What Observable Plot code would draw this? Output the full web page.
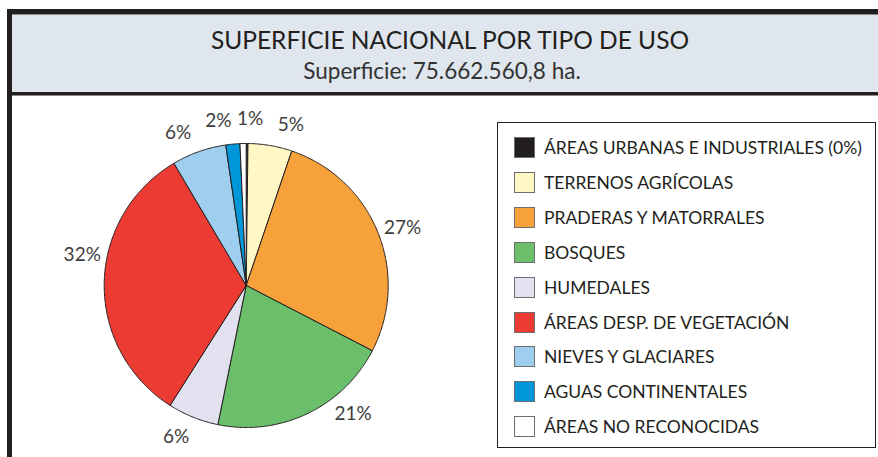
<!DOCTYPE html>
<html><head><meta charset="utf-8">
<script src="https://cdn.jsdelivr.net/npm/d3@7"></script>
<script src="https://cdn.jsdelivr.net/npm/@observablehq/plot@0.6"></script>
<style>
html,body{margin:0;padding:0;background:#fff;width:878px;height:457px;overflow:hidden;font-family:Lato,"Open Sans",sans-serif;color:#231f20}
.abs{position:absolute}
#pie svg{background:transparent!important;max-width:none}
.leg-row{position:absolute;left:0;height:21px;display:flex;align-items:center}
.sw{width:21px;height:21px;box-sizing:border-box;border:1px solid #6d6e71;margin-right:9px}
.lt{font-size:17.5px;line-height:21px;white-space:nowrap;color:#231f20}
</style></head>
<body>
<div class="abs" style="left:12px;top:14px;width:866px;height:79px;background:#dfe6ee"></div>
<div class="abs" style="left:7px;top:9px;width:871px;height:5px;background:#231f20"></div>
<div class="abs" style="left:12px;top:14px;width:866px;height:1px;background:#8a8a8a"></div>
<div class="abs" style="left:7px;top:92px;width:871px;height:3px;background:#231f20"></div>
<div class="abs" style="left:12px;top:95px;width:866px;height:1px;background:#8a8a8a"></div>
<div id="title" class="abs" style="left:0;width:900px;top:26px;text-align:center;font-size:24.5px;line-height:28px">SUPERFICIE NACIONAL POR TIPO DE USO</div>
<div id="sub" class="abs" style="left:0;width:884px;top:58px;text-align:center;font-size:22.5px;line-height:26px;color:#333">Superficie: 75.662.560,8 ha.</div>
<div id="pie" class="abs" style="left:0;top:97px"></div>
<div class="abs" style="left:7px;top:9px;width:5px;height:448px;background:#231f20"></div>
<div id="legend" class="abs" style="left:497px;top:122px;width:379px;height:326px;box-sizing:border-box;border:1px solid #231f20"></div>
<script>
const categories = ["ÁREAS URBANAS E INDUSTRIALES","TERRENOS AGRÍCOLAS","PRADERAS Y MATORRALES","BOSQUES","HUMEDALES","ÁREAS DESP. DE VEGETACIÓN","NIEVES Y GLACIARES","AGUAS CONTINENTALES","ÁREAS NO RECONOCIDAS"];
const legendLabels = ["ÁREAS URBANAS E INDUSTRIALES (0%)","TERRENOS AGRÍCOLAS","PRADERAS Y MATORRALES","BOSQUES","HUMEDALES","ÁREAS DESP. DE VEGETACIÓN","NIEVES Y GLACIARES","AGUAS CONTINENTALES","ÁREAS NO RECONOCIDAS"];
const values = [0.2, 5.0, 27.4, 20.6, 5.8, 32.5, 6.2, 1.6, 0.7];
const pctLabels = ["", "5%", "27%", "21%", "6%", "32%", "6%", "2%", "1%"];
const colors = ["#231f20","#fff8c4","#f7a13a","#6bbf6a","#e1e1ef","#eb3b32","#9fcfee","#0097d9","#ffffff"];

// layout settings (not data)
const labelNudgeDeg = [0, 5.8, 1.6, -14.3, 2.9, 9.8, -4.6, -4.2, 2.6];
const W = 492, H = 360, R = 142, cx = 245.7, cy = 188;

const total = d3.sum(values);
const pts = [];
const labs = [];
let acc = 0;
categories.forEach((name, i) => {
  const a0 = acc / total * 360, a1 = (acc + values[i]) / total * 360;
  acc += values[i];
  pts.push({name, x: 0, y: 0});
  const n = Math.max(2, Math.ceil((a1 - a0) / 0.5));
  for (let k = 0; k <= n; k++) {
    const t = (a0 + (a1 - a0) * k / n) * Math.PI / 180;
    pts.push({name, x: Math.sin(t), y: Math.cos(t)});
  }
  pts.push({name, x: 0, y: 0});
  if (pctLabels[i]) {
    const m = ((a0 + a1) / 2 + labelNudgeDeg[i]) * Math.PI / 180;
    labs.push({text: pctLabels[i], x: 1.175 * Math.sin(m), y: 1.175 * Math.cos(m)});
  }
});

const chart = Plot.plot({
  width: W, height: H, margin: 0,
  x: {domain: [-cx / R, (W - cx) / R], axis: null},
  y: {domain: [-(H - cy) / R, cy / R], axis: null},
  color: {domain: categories, range: colors},
  style: {fontFamily: "Lato, sans-serif", background: "transparent"},
  marks: [
    Plot.line(pts, {x: "x", y: "y", z: "name", fill: "name", stroke: "#231f20", strokeWidth: 1, curve: "linear", strokeLinejoin: "miter"}),
    Plot.text(labs, {x: "x", y: "y", text: "text", fontSize: 19, fill: "#3d3d3d"})
  ]
});
document.getElementById("pie").appendChild(chart);

const leg = document.getElementById("legend");
legendLabels.forEach((lab, i) => {
  const row = document.createElement("div");
  row.className = "leg-row";
  row.style.left = (514 - 498) + "px";
  row.style.top = (137 - 123 + i * 34.9) + "px";
  const sw = document.createElement("div");
  sw.className = "sw";
  sw.style.background = colors[i];
  const t = document.createElement("div");
  t.className = "lt";
  t.textContent = lab;
  row.appendChild(sw); row.appendChild(t);
  leg.appendChild(row);
});
</script>
</body></html>
